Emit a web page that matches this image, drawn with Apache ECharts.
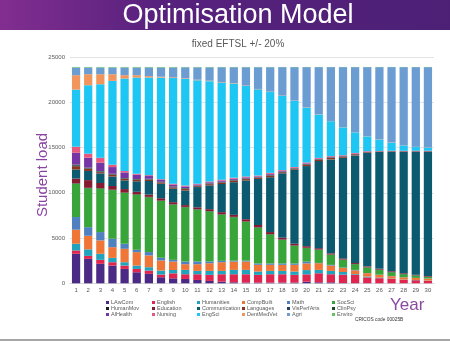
<!DOCTYPE html>
<html>
<head>
<meta charset="utf-8">
<script src="https://cdn.jsdelivr.net/npm/echarts@6/dist/echarts.min.js"></script>
<style>
  html, body { margin: 0; padding: 0; background: #ffffff; }
  #chart { width: 450px; height: 341px; }
</style>
</head>
<body>
<div id="chart"></div>
<script>
const years = ['1','2','3','4','5','6','7','8','9','10','11','12','13','14','15','16','17','18','19','20','21','22','23','24','25','26','27','28','29','30'];
const yTicks = [0, 5000, 10000, 15000, 20000, 25000];

const LAwCom = [3260,2700,2150,1960,1590,1220,1040,670,550,480,370,260,190,110,80,80,80,80,80,180,110,110,30,20,20,15,10,10,10,10];
const English = [370,330,440,370,370,370,370,300,550,520,630,670,810,890,920,850,920,920,850,810,1000,890,920,920,630,550,480,370,330,260];
const Humanities = [740,720,670,480,370,370,370,440,370,480,370,440,370,480,480,370,370,370,370,470,370,370,300,80,100,70,40,30,30,30];
const CompBuilt = [1550,1500,1480,1180,1480,1480,1300,1110,930,630,740,850,960,920,920,740,670,670,740,740,740,590,440,410,370,300,260,250,220,220];
const MathS = [1400,950,920,930,560,260,370,300,190,300,300,190,150,100,100,150,150,150,150,190,30,75,50,50,20,20,20,10,10,10];
const SocSci = [3680,4300,4810,5380,5620,6100,6050,6280,6110,5990,5740,5540,5120,4800,4300,3960,3210,2610,1960,1500,1450,1115,860,630,600,525,410,330,250,170];
const HumanMov = [50,50,50,50,50,50,50,50,40,40,40,40,40,40,40,40,40,40,40,40,30,30,30,30,30,30,30,30,30,30];
const Education = [520,850,560,400,370,260,250,250,220,200,200,200,220,220,240,250,220,200,180,170,150,130,120,110,100,90,80,80,70,70];
const Communication = [1000,1010,1060,1050,960,1160,1500,1600,1490,1610,2240,2620,3110,3610,4280,5090,6060,7110,8180,8850,9620,10380,11120,11880,12560,12900,13170,13390,13550,13700];
const Languages = [370,250,140,180,150,150,150,140,150,160,100,140,160,170,150,130,180,120,110,160,150,160,130,120,70,50,60,60,60,60];
const VisPerfArts = [100,60,60,60,50,50,50,40,50,60,40,50,50,50,50,40,50,40,30,50,40,40,30,30,20,10,20,20,20,20];
const ClinPsy = [80,60,60,60,50,50,50,40,50,50,40,40,40,40,40,30,40,30,30,30,30,30,20,20,10,10,10,10,10,10];
const AlHealth = [1300,1100,920,740,630,480,300,200,200,180,110,120,130,120,100,80,100,70,50,60,40,40,30,30,20,10,10,10,10,10];
const Nursing = [670,440,550,260,150,100,100,80,100,100,80,90,100,100,100,90,110,90,80,100,90,90,70,70,50,40,40,40,40,40];
const EngSci = [6310,7560,8120,9260,10220,10630,10790,11220,11670,11780,11430,11080,10700,10430,9990,9530,8930,8190,7300,6050,4800,3860,3080,2280,1630,1250,890,600,410,340];
const DentMedVet = [1590,1220,1110,740,370,260,150,100,80,60,60,50,50,50,50,40,40,40,30,30,30,20,20,20,20,20,20,20,20,20];
const Agri = [850,740,740,740,850,850,960,1030,1100,1220,1370,1480,1670,1740,2030,2400,2700,3150,3700,4450,5200,5950,6630,7180,7630,7990,8330,8620,8810,8880];
const Enviro = [60,60,60,60,60,60,50,50,50,40,40,40,30,30,30,30,30,20,20,20,20,20,20,20,20,20,20,20,20,20];

const seriesDefs = [
  ['LAwCom', LAwCom, '#4b2a86'],
  ['English', English, '#e0264f'],
  ['Humanities', Humanities, '#21a3be'],
  ['CompBuilt', CompBuilt, '#ef7636'],
  ['Math', MathS, '#4f80bf'],
  ['SocSci', SocSci, '#38a53a'],
  ['HumanMov', HumanMov, '#1c1c24'],
  ['Education', Education, '#861a30'],
  ['Communication', Communication, '#0c5a70'],
  ['Languages', Languages, '#8a3520'],
  ['VisPerfArts', VisPerfArts, '#233f63'],
  ['ClinPsy', ClinPsy, '#1f4a25'],
  ['AlHealth', AlHealth, '#7535a5'],
  ['Nursing', Nursing, '#e6587e'],
  ['EngSci', EngSci, '#1ec6f4'],
  ['DentMedVet', DentMedVet, '#f2955c'],
  ['Agri', Agri, '#6b9dd3'],
  ['Enviro', Enviro, '#62c45a']
];

const legendCols = [
  ['LAwCom','HumanMov','AlHealth'],
  ['English','Education','Nursing'],
  ['Humanities','Communication','EngSci'],
  ['CompBuilt','Languages','DentMedVet'],
  ['Math','VisPerfArts','Agri'],
  ['SocSci','ClinPsy','Enviro']
];
const legendX = [106, 152, 197, 242, 287, 332];

const FONT = '"Liberation Sans", Arial, sans-serif';
const chart = echarts.init(document.getElementById('chart'), null, {renderer: 'canvas'});

const option = {
  animation: false,
  backgroundColor: '#ffffff',
  textStyle: { fontFamily: FONT },
  title: [
    { text: 'Optimisation Model', left: 238, top: 2, textAlign: 'center',
      textStyle: { color: '#ffffff', fontSize: 27, fontWeight: 'normal', fontFamily: FONT }, padding: 0 },
    { text: 'fixed EFTSL +/- 20%', left: 238, top: 39, textAlign: 'center',
      textStyle: { color: '#595959', fontSize: 10, fontWeight: 'normal', fontFamily: FONT }, padding: 0 }
  ],
  graphic: [
    { type: 'rect', z: -1, shape: { x: 0, y: 0, width: 450, height: 30 },
      style: { fill: new echarts.graphic.LinearGradient(0, 0, 1, 0, [
        { offset: 0, color: '#822e90' }, { offset: 0.35, color: '#57217d' }, { offset: 1, color: '#4d2076' }]) } },
    { type: 'rect', shape: { x: 0, y: 339, width: 450, height: 2 }, style: { fill: '#a6a6a6' } },
    { type: 'text', x: 43, y: 175, rotation: Math.PI / 2,
      style: { text: 'Student load', fill: '#8a44a2', font: '15px ' + FONT, textAlign: 'center', textVerticalAlign: 'middle' } },
    { type: 'text', x: 390, y: 305,
      style: { text: 'Year', fill: '#8a4aa0', font: '17px ' + FONT, textAlign: 'left', textVerticalAlign: 'middle' } },
    { type: 'text', x: 355, y: 320,
      style: { text: 'CRICOS code 00025B', fill: '#333333', font: '4.8px ' + FONT, textAlign: 'left', textVerticalAlign: 'middle' } }
  ],
  legend: legendCols.map((col, i) => ({
    data: col,
    orient: 'vertical',
    left: legendX[i],
    top: 299.5,
    padding: 0,
    itemGap: 0,
    itemWidth: 3,
    itemHeight: 3,
    icon: 'rect',
    selectedMode: false,
    textStyle: { fontSize: 5.5, color: '#595959', lineHeight: 6, padding: [0, 0, 0, -3], fontFamily: FONT }
  })),
  grid: { left: 70, right: 16, top: 57, bottom: 57.7, containLabel: false },
  xAxis: {
    type: 'category',
    data: years,
    axisLine: { show: true, lineStyle: { color: '#d9d9d9', width: 1 } },
    axisTick: { show: false },
    axisLabel: { fontSize: 6, color: '#595959', margin: 4, interval: 0 },
    splitLine: { show: false }
  },
  yAxis: {
    type: 'value',
    min: yTicks[0],
    max: yTicks[yTicks.length - 1],
    interval: 5000,
    axisLine: { show: false },
    axisTick: { show: false },
    axisLabel: { fontSize: 6, color: '#595959', margin: 5, formatter: (v) => String(v) },
    splitLine: { show: true, lineStyle: { color: '#e3e3e3', width: 1 } }
  },
  series: seriesDefs.map(([name, data, color]) => ({
    name: name,
    type: 'bar',
    stack: 'total',
    data: data,
    barCategoryGap: '32%',
    itemStyle: { color: color },
    emphasis: { disabled: true }
  }))
};
chart.setOption(option);
</script>
</body>
</html>
